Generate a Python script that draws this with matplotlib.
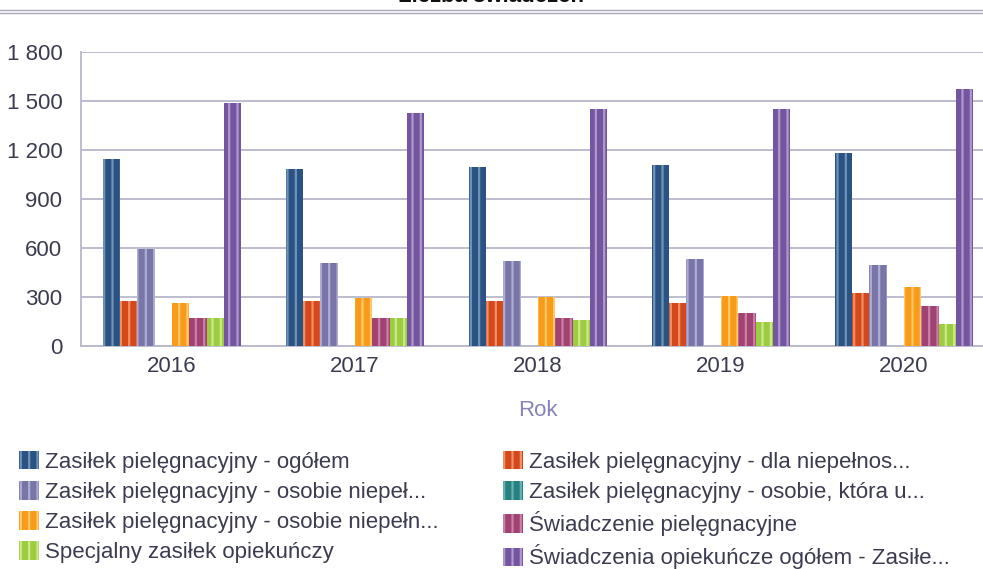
import numpy as np
import matplotlib.pyplot as plt
from matplotlib.lines import Line2D
from matplotlib.ticker import FuncFormatter

plt.rcParams['font.family'] = ['Liberation Sans', 'DejaVu Sans']
plt.rcParams['hatch.linewidth'] = 1.6

# ---- data -----------------------------------------------------------
years = ['2016', '2017', '2018', '2019', '2020']

series_names = [
    'Zasiłek pielęgnacyjny - ogółem',
    'Zasiłek pielęgnacyjny - dla niepełnos...',
    'Zasiłek pielęgnacyjny - osobie niepeł...',
    'Zasiłek pielęgnacyjny - osobie, która u...',
    'Zasiłek pielęgnacyjny - osobie niepełn...',
    'Świadczenie pielęgnacyjne',
    'Specjalny zasiłek opiekuńczy',
    'Świadczenia opiekuńcze ogółem - Zasiłe...',
]

zp_ogolem = [1145, 1084, 1096, 1108, 1184]
zp_dla_niepelnos = [275, 275, 275, 261, 322]
zp_osobie_niepel = [592, 506, 520, 531, 496]
zp_osobie_ktora = [0, 0, 0, 0, 0]
zp_osobie_niepeln = [261, 296, 300, 308, 359]
swiadczenie_piel = [171, 171, 171, 200, 247]
specjalny_zasilek = [171, 171, 159, 149, 137]
swiadczenia_ogolem = [1490, 1427, 1451, 1451, 1574]

values = [zp_ogolem, zp_dla_niepelnos, zp_osobie_niepel, zp_osobie_ktora,
          zp_osobie_niepeln, swiadczenie_piel, specjalny_zasilek,
          swiadczenia_ogolem]

# face colour, stripe colour
colors = [
    ('#2a5282', '#7094b6'),
    ('#d4481c', '#ee9068'),
    ('#7876a8', '#aeacd0'),
    ('#2a8080', '#62b4b4'),
    ('#f89a1a', '#ffc868'),
    ('#a04272', '#cc80a6'),
    ('#9ccc40', '#cce88c'),
    ('#7456a0', '#ae98cc'),
]

FS = 16
TXT = '#3c3c50'

# ---- figure ---------------------------------------------------------
fig = plt.figure(figsize=(9.83, 5.69), dpi=100)
ax = fig.add_axes([80.5 / 983, 1 - 346 / 569, 915 / 983, 294 / 569])

x = np.arange(len(years))
w = 0.0943
bars = []
for i, (vals, (fc, hc)) in enumerate(zip(values, colors)):
    b = ax.bar(x + (i - 3.5) * w, vals, width=w, color=fc,
               edgecolor=hc, hatch='||', linewidth=0, label=series_names[i],
               zorder=3)
    bars.append(b)

ax.set_xlim(-0.5, 4.5)
ax.set_ylim(0, 1800)
ax.set_yticks(np.arange(0, 1801, 300))
ax.yaxis.set_major_formatter(FuncFormatter(lambda v, p: f'{int(v):,}'.replace(',', ' ')))
ax.set_xticks(x)
ax.set_xticklabels(years)

grid_c = '#b8b8cc'
ax.yaxis.grid(True, color=grid_c, linewidth=1.3, zorder=0)
for s in ['top', 'right']:
    ax.spines[s].set_visible(False)
ax.spines['left'].set_color(grid_c)
ax.spines['bottom'].set_color(grid_c)
ax.spines['left'].set_linewidth(1.3)
ax.spines['bottom'].set_linewidth(1.3)
ax.tick_params(axis='both', length=0, labelsize=FS, labelcolor=TXT)
ax.tick_params(axis='y', pad=13)
ax.tick_params(axis='x', pad=7)

ax.set_xlabel('Rok', fontsize=FS, color='#8684b8', labelpad=17)

# title sits above the top edge; header rule below it
fig.text(0.5, 1.006, 'Liczba świadczeń', ha='center', va='center',
         fontsize=FS, fontweight='bold', color='#111111')
for yy in (10, 12.5):
    fig.add_artist(Line2D([0, 1], [1 - yy / 569] * 2, color='#a8a8bc',
                          linewidth=1.0, transform=fig.transFigure))

# legend: two columns, row-major order of the series
columns = [([0, 2, 4, 6], 19 / 983), ([1, 3, 5, 7], 503 / 983)]
for idx, x0 in columns:
    leg = fig.legend([bars[i] for i in idx], [series_names[i] for i in idx],
                     loc='upper left', bbox_to_anchor=(x0, 1 - 451 / 569),
                     frameon=False, fontsize=FS, labelcolor=TXT,
                     handlelength=0.9, handleheight=0.9, handletextpad=0.27,
                     labelspacing=0.37, borderpad=0, borderaxespad=0)

fig.savefig('out.png', dpi=100)
